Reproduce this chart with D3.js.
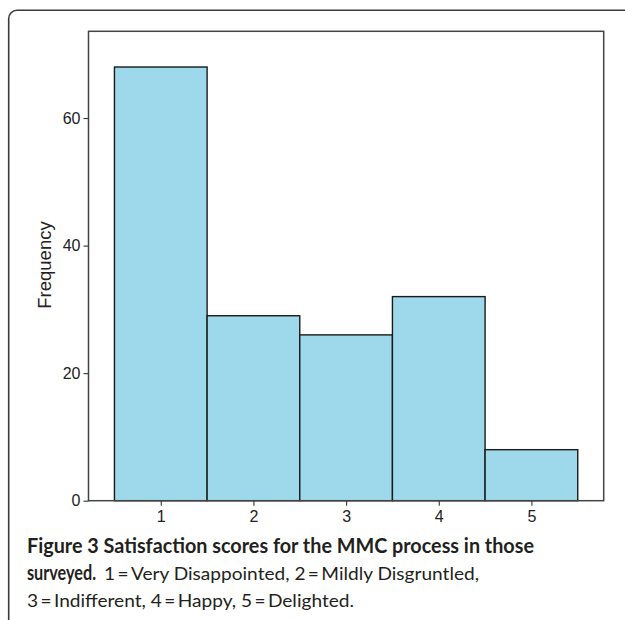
<!DOCTYPE html>
<html>
<head>
<meta charset="utf-8">
<script src="https://cdn.jsdelivr.net/npm/d3@7"></script>
<style>
  body { margin: 0; background: #fff; }
</style>
</head>
<body>
<script>
const scores = [1, 2, 3, 4, 5];
const frequencies = [68, 29, 26, 32, 8];
const yTicks = [0, 20, 40, 60];
const captionTitle = "Figure 3 Satisfaction scores for the MMC process in those";
const captionBold = "surveyed.";
const captionLine2 = "1\u2009=\u2009Very Disappointed, 2\u2009=\u2009Mildly Disgruntled,";
const captionLine3 = "3\u2009=\u2009Indifferent, 4\u2009=\u2009Happy, 5\u2009=\u2009Delighted.";

const W = 625, H = 620;
const plot = { left: 88.5, right: 603.7, top: 31.3, bottom: 500.7 };

const svg = d3.select("body").append("svg")
  .attr("width", W)
  .attr("height", H);

// outer figure border (top + left, rounded corner)
svg.append("path")
  .attr("d", `M${W + 2},10.3 L17,10.3 A8.3,8.3 0 0 0 8.7,18.6 L8.7,${H + 2}`)
  .attr("fill", "none")
  .attr("stroke", "#3a3a3a")
  .attr("stroke-width", 1.6);

const x = d3.scaleLinear()
  .domain([0.22, 5.78])
  .range([plot.left, plot.right]);

const y = d3.scaleLinear()
  .domain([0, 73.6])
  .range([plot.bottom, plot.top]);

// bars
svg.append("g")
  .selectAll("rect")
  .data(scores)
  .join("rect")
  .attr("x", d => x(d - 0.5))
  .attr("y", (d, i) => y(frequencies[i]))
  .attr("width", d => x(d + 0.5) - x(d - 0.5))
  .attr("height", (d, i) => y(0) - y(frequencies[i]))
  .attr("fill", "#9dd9ea")
  .attr("stroke", "#1a1a1a")
  .attr("stroke-width", 1.4);

// plot frame
svg.append("rect")
  .attr("x", plot.left)
  .attr("y", plot.top)
  .attr("width", plot.right - plot.left)
  .attr("height", plot.bottom - plot.top)
  .attr("fill", "none")
  .attr("stroke", "#444")
  .attr("stroke-width", 1.5);

const yAxis = svg.append("g")
  .attr("transform", `translate(${plot.left},0)`)
  .call(d3.axisLeft(y).tickValues(yTicks).tickFormat(d3.format("d"))
    .tickSize(5).tickSizeOuter(0).tickPadding(3));

const xAxis = svg.append("g")
  .attr("transform", `translate(0,${plot.bottom})`)
  .call(d3.axisBottom(x).tickValues(scores).tickFormat(d3.format("d"))
    .tickSize(5).tickSizeOuter(0).tickPadding(5));

[yAxis, xAxis].forEach(g => {
  g.attr("font-family", "'Liberation Sans', Arial, sans-serif").attr("font-size", 16);
  g.select(".domain").remove();
  g.selectAll(".tick line").attr("stroke", "#333").attr("stroke-width", 1.1);
  g.selectAll(".tick text").attr("fill", "#222");
});

svg.append("text")
  .attr("transform", "translate(51,265) rotate(-90)")
  .attr("text-anchor", "middle")
  .attr("fill", "#222")
  .attr("font-family", "'Liberation Sans', Arial, sans-serif")
  .attr("font-size", 18.5)
  .text("Frequency");

// caption
const cap = svg.append("g").attr("fill", "#231f20").attr("font-family", "Lato, 'Open Sans', sans-serif");

cap.append("text")
  .attr("x", 27).attr("y", 553.3)
  .attr("textLength", 507).attr("lengthAdjust", "spacingAndGlyphs")
  .attr("font-weight", 700).attr("font-size", 20)
  .text(captionTitle);

cap.append("text")
  .attr("x", 27).attr("y", 580)
  .attr("textLength", 69).attr("lengthAdjust", "spacingAndGlyphs")
  .attr("font-weight", 700).attr("font-size", 20)
  .text(captionBold);

cap.append("text")
  .attr("x", 104).attr("y", 580)
  .attr("textLength", 375).attr("lengthAdjust", "spacingAndGlyphs")
  .attr("font-weight", 400).attr("font-size", 17)
  .text(captionLine2);

cap.append("text")
  .attr("x", 27).attr("y", 606.7)
  .attr("textLength", 327).attr("lengthAdjust", "spacingAndGlyphs")
  .attr("font-weight", 400).attr("font-size", 17)
  .text(captionLine3);
</script>
</body>
</html>
